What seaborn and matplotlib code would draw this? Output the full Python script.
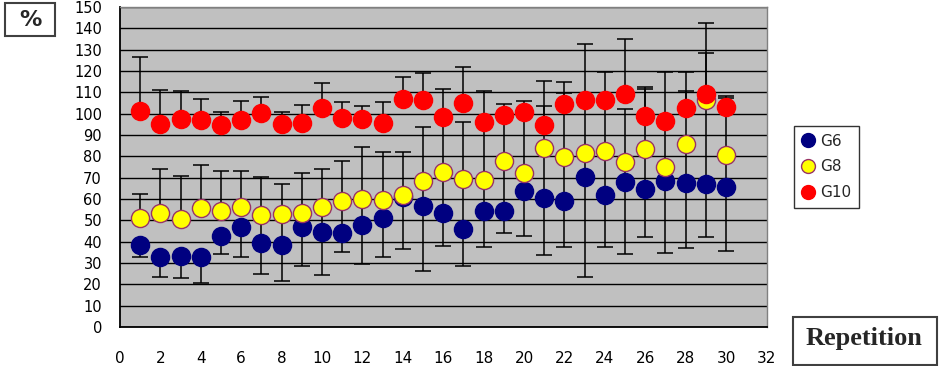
import matplotlib
matplotlib.use("Agg")
import matplotlib.pyplot as plt
from matplotlib.lines import Line2D
from matplotlib.patches import Rectangle
import pandas as pd
import seaborn as sns

W, H = 942, 366

repetition = list(range(1, 31))

g6 = [38.4, 32.7, 33.3, 32.7, 42.7, 46.7, 39.2, 38.4, 46.7, 44.7,
      44.2, 47.8, 51.1, 61.1, 56.9, 53.3, 46.1, 54.5, 54.5, 63.9,
      60.3, 59.2, 70.2, 61.9, 68.1, 64.8, 68.6, 67.6, 67.0, 65.8]
g6_low = [32.7, 23.6, 23.1, 20.5, 34.2, 33.0, 24.8, 21.7, 28.6, 24.2,
          35.0, 29.5, 32.7, 36.4, 26.3, 38.0, 28.6, 37.6, 43.9, 42.7,
          33.8, 37.6, 23.6, 37.6, 34.2, 42.0, 34.8, 36.9, 42.0, 35.8]

g8 = [51.0, 53.3, 50.6, 55.9, 54.2, 56.1, 52.3, 53.0, 53.6, 56.1,
      59.2, 59.8, 59.5, 61.7, 68.6, 72.7, 69.2, 68.9, 77.8, 72.0,
      84.0, 79.8, 81.4, 82.5, 77.5, 83.4, 75.1, 85.8, 106.4, 80.6]
g8_high = [62.3, 73.9, 70.8, 75.8, 73.3, 73.3, 70.2, 67.0, 72.0, 73.9,
           77.7, 84.2, 82.0, 82.0, 93.9, 97.0, 96.1, 96.0, 99.0, 100.0,
           103.6, 109.5, 105.0, 105.0, 102.0, 111.4, 96.0, 110.8, 128.6, 107.5]
# lower whisker ends (hidden under the G6 markers from repetition 7 on)
g8_low = [51.0, 53.3, 50.6, 55.9, 54.2, 56.1, 39.2, 38.4, 46.7, 44.7,
          44.2, 47.8, 51.1, 61.1, 56.9, 53.3, 46.1, 54.5, 54.5, 63.9,
          60.3, 59.2, 70.2, 61.9, 68.1, 64.8, 68.6, 67.6, 67.0, 65.8]

g10 = [101.4, 95.2, 97.7, 97.0, 94.5, 97.0, 100.2, 95.2, 95.8, 102.7,
       97.8, 97.3, 95.8, 107.0, 106.4, 98.3, 105.2, 96.2, 99.4, 100.8,
       94.5, 104.4, 106.4, 106.4, 109.0, 99.1, 96.6, 102.8, 109.2, 103.3]
g10_high = [126.4, 111.0, 110.8, 106.7, 101.0, 106.0, 108.0, 101.0, 104.2, 114.5,
            105.3, 103.6, 105.3, 117.3, 118.9, 111.6, 121.9, 110.6, 104.5, 106.1,
            115.5, 115.0, 132.7, 119.5, 135.0, 112.3, 119.5, 119.5, 142.3, 108.4]

groups = ["G6", "G8", "G10"]
colors = {"G6": "#000080", "G8": "#FFFF00", "G10": "#FF0000"}
edges = {"G6": "#000080", "G8": "#993366", "G10": "#FF0000"}

df = pd.concat([
    pd.DataFrame({"repetition": repetition, "value": vals,
                  "low": lo, "high": hi, "group": name})
    for name, vals, lo, hi in [
        ("G6", g6, g6_low, g6),
        ("G8", g8, g8_low, g8_high),
        ("G10", g10, g10, g10_high),
    ]
], ignore_index=True)

sns.set_style("white")
plt.rcParams["font.family"] = ["DejaVu Sans"]

fig = plt.figure(figsize=(W / 100, H / 100), dpi=100)
ax = fig.add_axes([120 / W, 1 - 327 / H, 646.5 / W, 320 / H])
ax.set_facecolor("#C0C0C0")

# whiskers first so every marker sits on top of them
for name in groups:
    sub = df[df["group"] == name]
    ax.errorbar(sub["repetition"], sub["value"],
                yerr=[sub["value"] - sub["low"], sub["high"] - sub["value"]],
                fmt="none", ecolor="black", elinewidth=1.1,
                capsize=5.5, capthick=1.1, zorder=2)

for name in groups:
    sub = df[df["group"] == name]
    sns.scatterplot(data=sub, x="repetition", y="value", ax=ax,
                    color=colors[name], edgecolor=edges[name],
                    linewidth=1.0, s=170, zorder=3, legend=False)

ax.set_xlim(0, 32)
ax.set_ylim(0, 150)
ax.set_xticks(range(0, 33, 2))
ax.set_yticks(range(0, 151, 10))
ax.set_xlabel("")
ax.set_ylabel("")
ax.yaxis.grid(True, color="black", linewidth=1.0)
ax.xaxis.grid(False)
ax.set_axisbelow(True)
ax.tick_params(axis="x", direction="in", length=5, width=1.1, pad=17,
               labelsize=11, colors="black")
ax.tick_params(axis="y", direction="out", length=4, width=1.1, pad=9,
               labelsize=10.5, colors="black")
for side in ["left", "bottom"]:
    ax.spines[side].set_color("black")
    ax.spines[side].set_linewidth(1.3)
for side in ["top", "right"]:
    ax.spines[side].set_color("#808080")
    ax.spines[side].set_linewidth(1.0)

handles = [Line2D([], [], marker="o", linestyle="none", markersize=10,
                  markerfacecolor=colors[g], markeredgecolor=edges[g],
                  markeredgewidth=1.0, label=g) for g in groups]
leg = fig.legend(handles=handles, loc="upper left",
                 bbox_to_anchor=(794 / W, 1 - 126 / H),
                 bbox_transform=fig.transFigure, borderaxespad=0,
                 fontsize=11, frameon=True, fancybox=False,
                 handlelength=0.8, handletextpad=0.4, labelspacing=0.7,
                 borderpad=0.5)
leg.get_frame().set_edgecolor("black")
leg.get_frame().set_linewidth(1.0)

fig.patches.append(Rectangle((5 / W, 1 - 36 / H), 50 / W, 33 / H,
                             transform=fig.transFigure, fill=False,
                             edgecolor="#404040", linewidth=1.5))
fig.text(30 / W, 1 - 20 / H, "%", ha="center", va="center",
         fontsize=16, fontweight="bold")

fig.patches.append(Rectangle((793 / W, 1 - 365 / H), 144 / W, 48 / H,
                             transform=fig.transFigure, fill=False,
                             edgecolor="#404040", linewidth=1.5))
fig.text(864 / W, 1 - 339 / H, "Repetition", ha="center", va="center",
         fontsize=19, fontweight="bold", family=["Liberation Serif"])

fig.savefig("out.png", dpi=100)
